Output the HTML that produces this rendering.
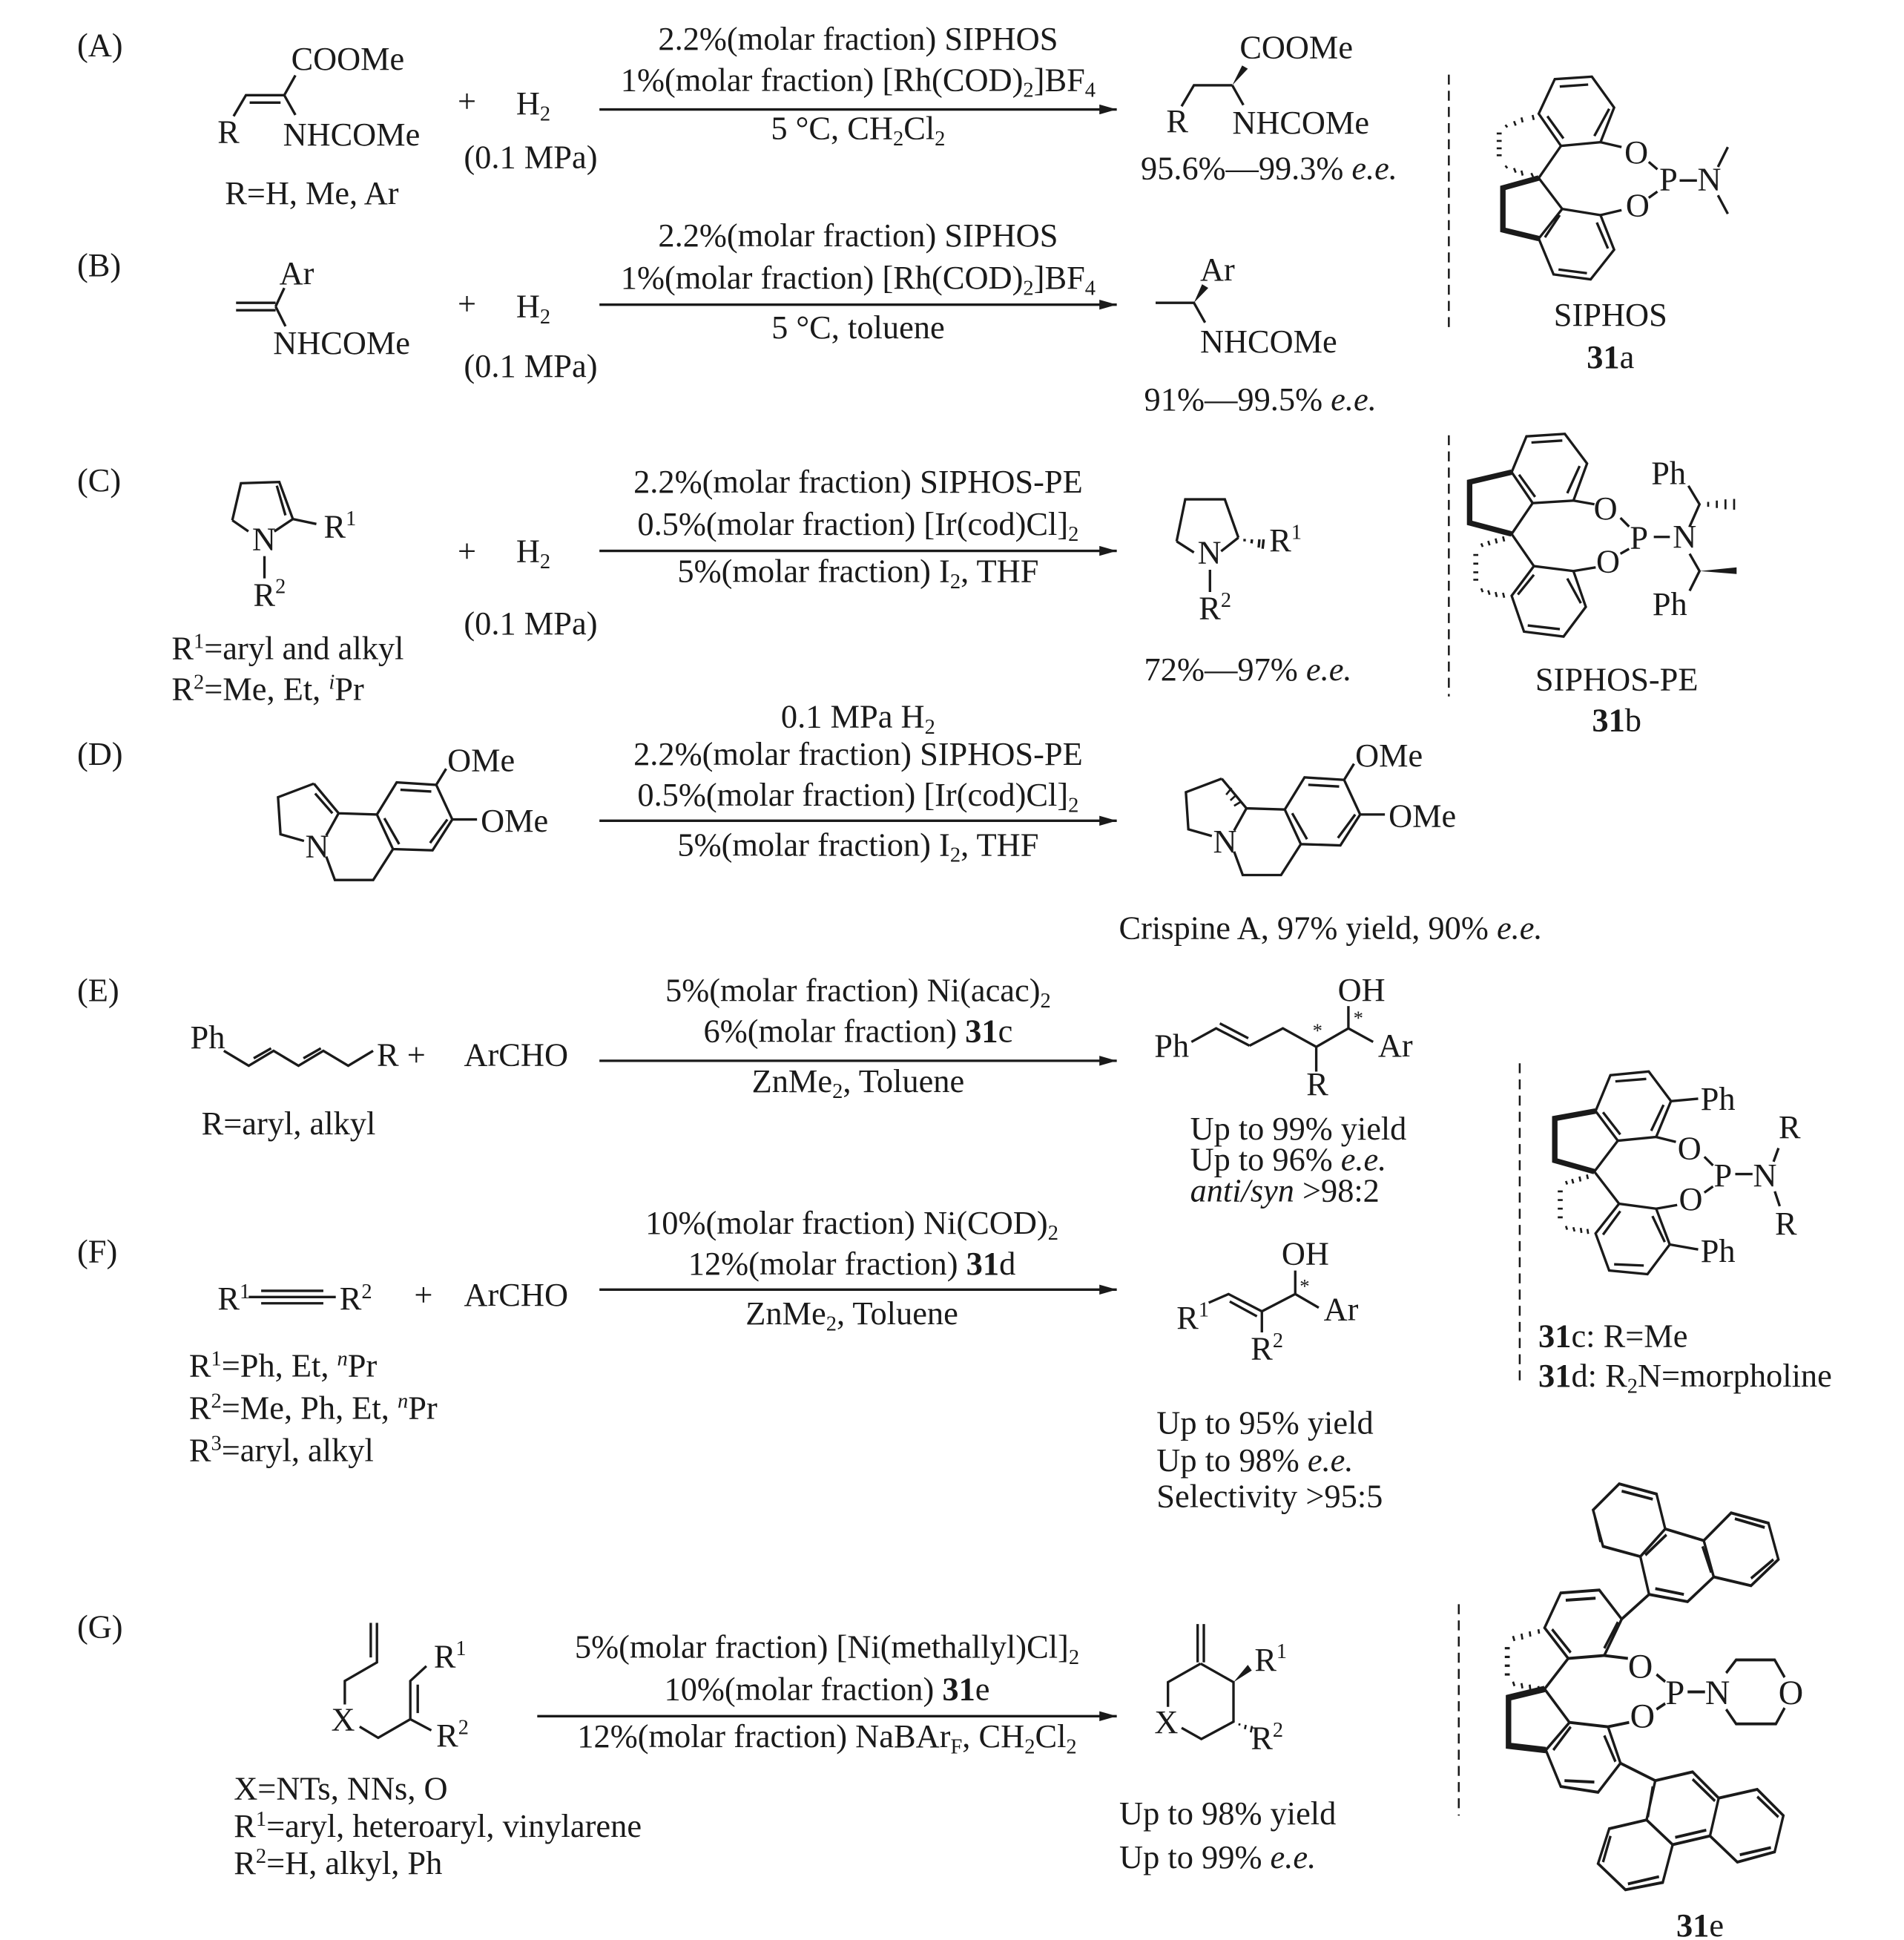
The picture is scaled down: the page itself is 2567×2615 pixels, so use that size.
<!DOCTYPE html>
<html><head><meta charset="utf-8"><style>
html,body{margin:0;padding:0;background:#fff}
svg{display:block}
text{font-family:"Liberation Serif",serif;font-size:26.5px;fill:#1a1a1a}
.s{font-size:17px}
.z{stroke-width:10}
.z text{font-size:133px;stroke:none}
.z .sp{font-size:85px}
.z .st{font-size:80px}
.ze{stroke-width:10}
.ze text{font-size:118px}
</style></head><body>
<svg width="2567" height="2615" viewBox="0 0 1531 1560" preserveAspectRatio="none" xmlns="http://www.w3.org/2000/svg">
<defs>
<marker id="ar" markerWidth="14" markerHeight="8" refX="14" refY="4" orient="auto" markerUnits="userSpaceOnUse"><path d="M0,0 L14,4 L0,8 Z" fill="#1a1a1a"/></marker>
</defs>
<g stroke="#1a1a1a" stroke-width="2" fill="none">
<line x1="482" y1="88" x2="898" y2="88" marker-end="url(#ar)"/>
<line x1="482" y1="245" x2="898" y2="245" marker-end="url(#ar)"/>
<line x1="482" y1="443" x2="898" y2="443" marker-end="url(#ar)"/>
<line x1="482" y1="660" x2="898" y2="660" marker-end="url(#ar)"/>
<line x1="482" y1="853" x2="898" y2="853" marker-end="url(#ar)"/>
<line x1="482" y1="1037" x2="898" y2="1037" marker-end="url(#ar)"/>
<line x1="432" y1="1380" x2="898" y2="1380" marker-end="url(#ar)"/>
<line x1="1165" y1="60" x2="1165" y2="265" stroke-dasharray="8,5" stroke-width="1.5"/>
<line x1="1165" y1="350" x2="1165" y2="560" stroke-dasharray="8,5" stroke-width="1.5"/>
<line x1="1222" y1="855" x2="1222" y2="1110" stroke-dasharray="8,5" stroke-width="1.5"/>
<line x1="1173" y1="1290" x2="1173" y2="1460" stroke-dasharray="8,5" stroke-width="1.5"/>
<path d="M180,845 L200,857 L220,845 L240,857 L260,845 L280,857 L300,845 M204,851 L218,843 M244,851 L258,843"/>
<path d="M200,1043 L270,1043 M210,1038 L260,1038 M210,1048 L260,1048"/>
</g>

<g class="z" transform="translate(161,23.85) scale(0.19877)" stroke="#1a1a1a" fill="none">
<path d="M135,350 L185,265 L340,265 M200,295 L325,295 M340,265 L385,185 M340,265 L385,345"/>
<path d="M145,1105 L305,1105 M145,1135 L305,1135 M305,1120 L340,1045 M305,1120 L345,1200"/>
<text x="368" y="162">COOMe</text><text x="70" y="458">R</text><text x="335" y="468">NHCOMe</text>
<text x="100" y="705">R=H, Me, Ar</text>
<text x="320" y="1030">Ar</text><text x="295" y="1312">NHCOMe</text>
</g>
<g class="z" transform="translate(918.3,23.85) scale(0.19877)" stroke="#1a1a1a" fill="none">
<path d="M160,310 L210,225 L365,225 M365,225 L410,305"/>
<polygon points="365,225 405,145 428,158" fill="#1a1a1a" stroke="none"/>
<path d="M55,1105 L210,1105 L255,1185"/>
<polygon points="210,1105 243,1030 268,1045" fill="#1a1a1a" stroke="none"/>
<text x="395" y="115">COOMe</text><text x="98" y="415">R</text><text x="365" y="420">NHCOMe</text>
<text x="-5" y="605">95.6%—99.3% <tspan font-style="italic">e.e.</tspan></text>
<text x="235" y="1015">Ar</text><text x="235" y="1305">NHCOMe</text>
</g>
<g class="z" transform="translate(155,381.6) scale(0.19877)" stroke="#1a1a1a" fill="none">
<path d="M160,185 L195,35 L350,30 L405,180 M340,45 L375,165 M160,185 L225,230 M330,230 L405,180 L500,200 M290,330 L290,420"/>
<text x="240" y="305">N</text><text x="530" y="255">R<tspan class="sp" dy="-50">1</tspan></text>
<text x="245" y="530">R<tspan class="sp" dy="-50">2</tspan></text>
</g>
<g class="z" transform="translate(930.2,405.5) scale(0.19877)" stroke="#1a1a1a" fill="none">
<path d="M80,150 L115,-20 L275,-20 L330,135 M80,150 L150,195 M260,190 L330,135 M215,265 L215,355"/>
<path d="M355,140 L355,150 M385,142 L383,158 M415,142 L412,175 M432,142 L428,180" />
<text x="165" y="240">N</text><text x="455" y="190">R<tspan class="sp" dy="-50">1</tspan></text>
<text x="170" y="465">R<tspan class="sp" dy="-50">2</tspan></text>
</g>
<g class="z" transform="translate(202.7,584.4) scale(0.19877)" stroke="#1a1a1a" fill="none">
<path d="M250,230 L105,285 L115,435 L210,462 M300,525 L335,620 L490,620 L570,495 M250,230 L350,350 M255,270 L325,350 M350,350 L300,440 M350,350 L505,355 L585,225 L745,235 L810,375 L730,500 L570,495 L505,355 M600,255 L725,262 M790,375 L720,470 M535,370 L595,475 M745,235 L785,170 M810,375 L910,375"/>
<text x="215" y="528">N</text><text x="790" y="180">OMe</text><text x="925" y="425">OMe</text>
</g>
<g class="z" transform="translate(932.7,580.4) scale(0.19877)" stroke="#1a1a1a" fill="none">
<path d="M250,230 L105,285 L115,435 L210,462 M300,525 L335,620 L490,620 L570,495 M250,230 L350,350 M350,350 L300,440 M350,350 L505,355 L585,225 L745,235 L810,375 L730,500 L570,495 L505,355 M600,255 L725,262 M790,375 L720,470 M535,370 L595,475 M745,235 L785,170 M810,375 L910,375"/>
<path d="M330,322 L300,340 M310,295 L285,318 M290,268 L268,295" stroke-width="8"/>
<text x="215" y="528">N</text><text x="790" y="180">OMe</text><text x="925" y="425">OMe</text>
</g>
<g class="z" transform="translate(912.3,781.2) scale(0.19877)" stroke="#1a1a1a" fill="none">
<path d="M230,285 L330,230 L465,300 M345,210 L460,270 M465,300 L600,230 L735,305 L865,230 L965,285 M865,230 L865,140 M735,305 L735,405"/>
<path d="M300,1340 L380,1305 L515,1375 M385,1335 L495,1395 M515,1375 L650,1305 L745,1360 M650,1305 L650,1210 M515,1375 L515,1460"/>
<text x="80" y="345">Ph</text><text x="822" y="118">OH</text><text x="985" y="343">Ar</text><text x="695" y="500">R</text>
<text class="st" x="720" y="265">*</text><text class="st" x="885" y="215">*</text>
<text x="225" y="680">Up to 99% yield</text>
<text x="225" y="805">Up to 96% <tspan font-style="italic">e.e.</tspan></text>
<text x="225" y="930"><tspan font-style="italic">anti/syn</tspan> &gt;98:2</text>
<text x="595" y="1185">OH</text><text x="170" y="1445">R<tspan class="sp" dy="-50">1</tspan></text>
<text x="765" y="1410">Ar</text><text x="470" y="1570">R<tspan class="sp" dy="-50">2</tspan></text>
<text class="st" x="668" y="1300">*</text>
</g>
<g class="z" transform="translate(238.5,1300) scale(0.19877)" stroke="#1a1a1a" fill="none">
<path d="M300,25 L300,165 M325,25 L325,185 L195,260 L195,355 M255,445 L330,490 L460,415 L545,460 M460,415 L460,260 L525,200 M490,275 L490,390"/>
<text x="140" y="460">X</text><text x="555" y="205">R<tspan class="sp" dy="-50">1</tspan></text>
<text x="565" y="525">R<tspan class="sp" dy="-50">2</tspan></text>
</g>
<g class="z" transform="translate(918.3,1300) scale(0.19877)" stroke="#1a1a1a" fill="none">
<path d="M225,30 L225,185 M250,30 L250,185 M237,190 L105,265 L105,365 M237,190 L370,265 L370,425 L240,495 L160,450"/>
<polygon points="370,265 428,195 444,218" fill="#1a1a1a" stroke="none"/>
<path d="M395,432 L393,440 M420,438 L416,455 M445,442 L440,468" stroke-width="8"/>
<text x="50" y="470">X</text><text x="455" y="218">R<tspan class="sp" dy="-50">1</tspan></text>
<text x="440" y="535">R<tspan class="sp" dy="-50">2</tspan></text>
</g>
<g class="z" transform="translate(1186.6,53.7) scale(0.19877)" stroke="#1a1a1a" fill="none">
<path d="M320,50 L470,40 L560,165 L505,305 L345,320 L255,190 Z M340,80 L455,72 M480,280 L540,170 M290,200 L355,290"/>
<path d="M350,575 L505,600 L560,740 L465,860 L315,840 L255,695 Z M490,630 L535,735 M335,820 L450,835 M280,690 L340,600"/>
<path d="M345,320 L255,450 L350,575 M505,305 L590,325 M505,600 L590,580 M700,385 L735,415 M700,530 L735,505 M825,460 L895,460 M980,405 L1020,325 M980,520 L1020,595"/>
<path d="M255,450 L110,490 L110,660 L255,695" stroke-width="22"/>
<path d="M230,195 L235,215 M185,205 L190,225 M155,220 L162,238 M120,235 L128,245 M85,270 L105,270 M85,300 L105,300 M85,330 L105,330 M85,358 L105,358 M120,400 L128,410 M155,410 L162,428 M185,420 L190,440 M225,430 L232,445" stroke-width="8"/>
<text x="650" y="390" text-anchor="middle">O</text><text x="655" y="605" text-anchor="middle">O</text>
<text x="780" y="500" text-anchor="middle">P</text><text x="945" y="500" text-anchor="middle">N</text>
</g>
<g class="z" transform="translate(1168.8,345.9) scale(0.19877)" stroke="#1a1a1a" fill="none">
<path d="M295,25 L450,15 L540,135 L485,285 L320,295 L235,170 Z M315,50 L440,42 M460,255 L510,145 M265,180 L330,270"/>
<path d="M325,550 L485,570 L535,715 L445,835 L285,815 L235,670 Z M460,600 L515,700 M300,790 L430,805 M260,665 L325,585"/>
<path d="M320,295 L235,420 L325,550 M485,285 L570,300 M485,570 L575,555 M675,355 L710,390 M675,500 L710,480 M810,432 L875,432 M955,390 L995,300 L950,225 M955,500 L995,570 L955,650"/>
<path d="M235,170 L65,210 L65,375 L235,420" stroke-width="22"/>
<path d="M200,430 L205,450 M170,438 L175,458 M140,448 L146,466 M112,458 L118,472 M80,505 L100,505 M80,540 L100,540 M80,575 L100,575 M80,605 L100,605 M112,640 L118,655 M140,648 L146,666 M170,655 L175,675 M200,658 L205,678" stroke-width="8"/>
<path d="M1030,290 L1030,310 M1065,285 L1065,315 M1100,280 L1100,320 M1135,278 L1135,322" stroke-width="8"/>
<polygon points="995,570 1145,555 1145,582" fill="#1a1a1a" stroke="none"/>
<text x="615" y="360" text-anchor="middle">O</text><text x="625" y="575" text-anchor="middle">O</text>
<text x="750" y="480" text-anchor="middle">P</text><text x="935" y="475" text-anchor="middle">N</text>
<text x="870" y="218" text-anchor="middle">Ph</text><text x="875" y="748" text-anchor="middle">Ph</text>
</g>
<g class="z" transform="translate(1234.3,846.7) scale(0.19877)" stroke="#1a1a1a" fill="none">
<path d="M305,90 L460,75 L550,195 L490,340 L335,355 L245,235 Z M325,115 L450,105 M470,315 L520,210 M275,240 L345,330"/>
<path d="M340,610 L490,630 L545,775 L455,895 L300,880 L245,730 Z M475,660 L525,765 M320,855 L440,860 M275,735 L345,640"/>
<path d="M335,355 L240,480 L340,610 M550,195 L660,185 M545,775 L660,795 M490,340 L570,360 M490,630 L575,615 M685,420 L720,455 M685,565 L720,540 M810,490 L880,490 M965,440 L985,385 M970,560 L990,620"/>
<path d="M245,235 L80,265 L80,435 L240,480" stroke-width="22"/>
<path d="M210,492 L214,510 M180,500 L184,520 M150,510 L155,528 M125,518 L130,532 M92,560 L112,560 M92,595 L112,595 M92,630 L112,630 M92,665 L112,665 M125,700 L130,715 M155,705 L160,722 M185,708 L188,728 M212,712 L215,732" stroke-width="8"/>
<text x="740" y="230" text-anchor="middle">Ph</text><text x="740" y="845" text-anchor="middle">Ph</text>
<text x="625" y="430" text-anchor="middle">O</text><text x="630" y="635" text-anchor="middle">O</text>
<text x="760" y="540" text-anchor="middle">P</text><text x="930" y="540" text-anchor="middle">N</text>
<text x="1030" y="345" text-anchor="middle">R</text><text x="1015" y="735" text-anchor="middle">R</text>
</g>
<!-- 31e -->
<g class="z ze" transform="translate(1181,1192) scale(0.2,0.234)" stroke="#1a1a1a" fill="none">
<path d="M370,380 L525,370 L615,470 L545,595 L400,605 L305,500 Z M390,405 L510,398 M545,570 L600,480 M335,505 L410,585"/>
<path d="M405,825 L560,840 L610,965 L520,1065 L370,1045 L310,920 Z M545,870 L590,960 M385,1025 L505,1030 M340,920 L410,840"/>
<path d="M400,605 L305,710 L405,825 M545,595 L640,605 M560,840 L645,825 M755,660 L790,685 M755,780 L790,760 M880,720 L950,720"/>
<path d="M1035,655 L1075,610 L1230,610 L1270,670 M1270,775 L1235,830 L1075,830 L1035,780"/>
<path d="M305,710 L160,740 L160,905 L310,920" stroke-width="22"/>
<path d="M280,505 L283,520 M245,512 L248,530 M212,520 L216,540 M178,528 L184,545 M145,570 L165,570 M145,600 L165,600 M145,630 L165,630 M145,660 L165,660 M178,685 L184,700 M212,690 L216,708 M245,695 L248,715 M280,700 L283,718" stroke-width="8"/>
<path d="M615,470 L725,385 M725,385 L880,410 L985,325 L945,200 L790,160 L690,255 Z M750,365 L865,385 M940,220 L975,310 M710,250 L795,180"/>
<path d="M690,255 L540,220 L500,95 L605,5 L755,40 L790,160 M530,205 L505,110 M615,30 L740,58"/>
<path d="M945,200 L1055,105 L1205,140 L1245,265 L1135,355 L985,325 M1070,125 L1190,155 M1225,265 L1135,330"/>
<path d="M610,965 L750,1025 M750,1025 L900,995 L1005,1085 L970,1215 L820,1245 L715,1160 Z M900,1020 L990,1095 M830,1220 L955,1195 M740,1045 L720,1150"/>
<path d="M1005,1085 L1160,1055 L1265,1145 L1230,1270 L1080,1305 L970,1215 M1160,1080 L1245,1150 M1090,1280 L1215,1255"/>
<path d="M715,1160 L565,1190 L520,1310 L630,1400 L780,1375 L820,1245 M570,1215 L540,1305 M640,1380 L765,1355"/>
<g transform="scale(1.17,1)">
<text x="590" y="672" text-anchor="middle">O</text><text x="597" y="842" text-anchor="middle">O</text>
<text x="709" y="762" text-anchor="middle">P</text><text x="855" y="762" text-anchor="middle">N</text>
<text x="1107" y="762" text-anchor="middle">O</text>
</g>
</g>

<text x="62" y="45">(A)</text><text x="62" y="222">(B)</text><text x="62" y="395">(C)</text>
<text x="62" y="615">(D)</text><text x="62" y="805">(E)</text><text x="62" y="1015">(F)</text><text x="62" y="1317">(G)</text>
<text x="368" y="90">+</text><text x="415" y="92">H<tspan class="s" dy="5">2</tspan></text><text x="373" y="135">(0.1 MPa)</text>
<text x="690" y="40" text-anchor="middle">2.2%(molar fraction) SIPHOS</text>
<text x="690" y="73" text-anchor="middle">1%(molar fraction) [Rh(COD)<tspan class="s" dy="5">2</tspan><tspan dy="-5">]BF</tspan><tspan class="s" dy="5">4</tspan></text>
<text x="690" y="112" text-anchor="middle">5 °C, CH<tspan class="s" dy="5">2</tspan><tspan dy="-5">Cl</tspan><tspan class="s" dy="5">2</tspan></text>
<text x="1295" y="262" text-anchor="middle">SIPHOS</text><text x="1295" y="296" text-anchor="middle"><tspan font-weight="bold">31</tspan>a</text>
<text x="368" y="253">+</text><text x="415" y="255">H<tspan class="s" dy="5">2</tspan></text><text x="373" y="303">(0.1 MPa)</text>
<text x="690" y="198" text-anchor="middle">2.2%(molar fraction) SIPHOS</text>
<text x="690" y="232" text-anchor="middle">1%(molar fraction) [Rh(COD)<tspan class="s" dy="5">2</tspan><tspan dy="-5">]BF</tspan><tspan class="s" dy="5">4</tspan></text>
<text x="690" y="272" text-anchor="middle">5 °C, toluene</text>
<text x="920" y="330">91%—99.5% <tspan font-style="italic">e.e.</tspan></text>
<text x="138" y="530">R<tspan class="s" dy="-9">1</tspan><tspan dy="9">=aryl and alkyl</tspan></text>
<text x="138" y="563">R<tspan class="s" dy="-9">2</tspan><tspan dy="9">=Me, Et, </tspan><tspan class="s" dy="-9" font-style="italic">i</tspan><tspan dy="9">Pr</tspan></text>
<text x="368" y="452">+</text><text x="415" y="452">H<tspan class="s" dy="5">2</tspan></text><text x="373" y="510">(0.1 MPa)</text>
<text x="690" y="396" text-anchor="middle">2.2%(molar fraction) SIPHOS-PE</text>
<text x="690" y="430" text-anchor="middle">0.5%(molar fraction) [Ir(cod)Cl]<tspan class="s" dy="5">2</tspan></text>
<text x="690" y="468" text-anchor="middle">5%(molar fraction) I<tspan class="s" dy="5">2</tspan><tspan dy="-5">, THF</tspan></text>
<text x="920" y="547">72%—97% <tspan font-style="italic">e.e.</tspan></text>
<text x="1300" y="555" text-anchor="middle">SIPHOS-PE</text><text x="1300" y="588" text-anchor="middle"><tspan font-weight="bold">31</tspan>b</text>
<text x="690" y="585" text-anchor="middle">0.1 MPa H<tspan class="s" dy="5">2</tspan></text>
<text x="690" y="615" text-anchor="middle">2.2%(molar fraction) SIPHOS-PE</text>
<text x="690" y="648" text-anchor="middle">0.5%(molar fraction) [Ir(cod)Cl]<tspan class="s" dy="5">2</tspan></text>
<text x="690" y="688" text-anchor="middle">5%(molar fraction) I<tspan class="s" dy="5">2</tspan><tspan dy="-5">, THF</tspan></text>
<text x="1070" y="755" text-anchor="middle">Crispine A, 97% yield, 90% <tspan font-style="italic">e.e.</tspan></text>
<text x="153" y="843">Ph</text><text x="303" y="857">R +</text><text x="373" y="857">ArCHO</text>
<text x="162" y="912">R=aryl, alkyl</text>
<text x="690" y="805" text-anchor="middle">5%(molar fraction) Ni(acac)<tspan class="s" dy="5">2</tspan></text>
<text x="690" y="838" text-anchor="middle">6%(molar fraction) <tspan font-weight="bold">31</tspan>c</text>
<text x="690" y="878" text-anchor="middle">ZnMe<tspan class="s" dy="5">2</tspan><tspan dy="-5">, Toluene</tspan></text>
<text x="175" y="1053">R<tspan class="s" dy="-9">1</tspan></text><text x="273" y="1053">R<tspan class="s" dy="-9">2</tspan></text>
<text x="333" y="1050">+</text><text x="373" y="1050">ArCHO</text>
<text x="152" y="1107">R<tspan class="s" dy="-9">1</tspan><tspan dy="9">=Ph, Et, </tspan><tspan class="s" dy="-9" font-style="italic">n</tspan><tspan dy="9">Pr</tspan></text>
<text x="152" y="1141">R<tspan class="s" dy="-9">2</tspan><tspan dy="9">=Me, Ph, Et, </tspan><tspan class="s" dy="-9" font-style="italic">n</tspan><tspan dy="9">Pr</tspan></text>
<text x="152" y="1175">R<tspan class="s" dy="-9">3</tspan><tspan dy="9">=aryl, alkyl</tspan></text>
<text x="685" y="992" text-anchor="middle">10%(molar fraction) Ni(COD)<tspan class="s" dy="5">2</tspan></text>
<text x="685" y="1025" text-anchor="middle">12%(molar fraction) <tspan font-weight="bold">31</tspan>d</text>
<text x="685" y="1065" text-anchor="middle">ZnMe<tspan class="s" dy="5">2</tspan><tspan dy="-5">, Toluene</tspan></text>
<text x="930" y="1153">Up to 95% yield</text>
<text x="930" y="1183">Up to 98% <tspan font-style="italic">e.e.</tspan></text>
<text x="930" y="1212">Selectivity &gt;95:5</text>
<text x="1237" y="1083"><tspan font-weight="bold">31</tspan>c: R=Me</text>
<text x="1237" y="1115"><tspan font-weight="bold">31</tspan>d: R<tspan class="s" dy="5">2</tspan><tspan dy="-5">N=morpholine</tspan></text>
<text x="188" y="1447">X=NTs, NNs, O</text>
<text x="188" y="1477">R<tspan class="s" dy="-9">1</tspan><tspan dy="9">=aryl, heteroaryl, vinylarene</tspan></text>
<text x="188" y="1507">R<tspan class="s" dy="-9">2</tspan><tspan dy="9">=H, alkyl, Ph</tspan></text>
<text x="665" y="1333" text-anchor="middle">5%(molar fraction) [Ni(methallyl)Cl]<tspan class="s" dy="5">2</tspan></text>
<text x="665" y="1367" text-anchor="middle">10%(molar fraction) <tspan font-weight="bold">31</tspan>e</text>
<text x="665" y="1405" text-anchor="middle">12%(molar fraction) NaBAr<tspan class="s" dy="5">F</tspan><tspan dy="-5">, CH</tspan><tspan class="s" dy="5">2</tspan><tspan dy="-5">Cl</tspan><tspan class="s" dy="5">2</tspan></text>
<text x="900" y="1467">Up to 98% yield</text>
<text x="900" y="1502">Up to 99% <tspan font-style="italic">e.e.</tspan></text>
<text x="1367" y="1557" text-anchor="middle"><tspan font-weight="bold">31</tspan>e</text>
</svg>
</body></html>
